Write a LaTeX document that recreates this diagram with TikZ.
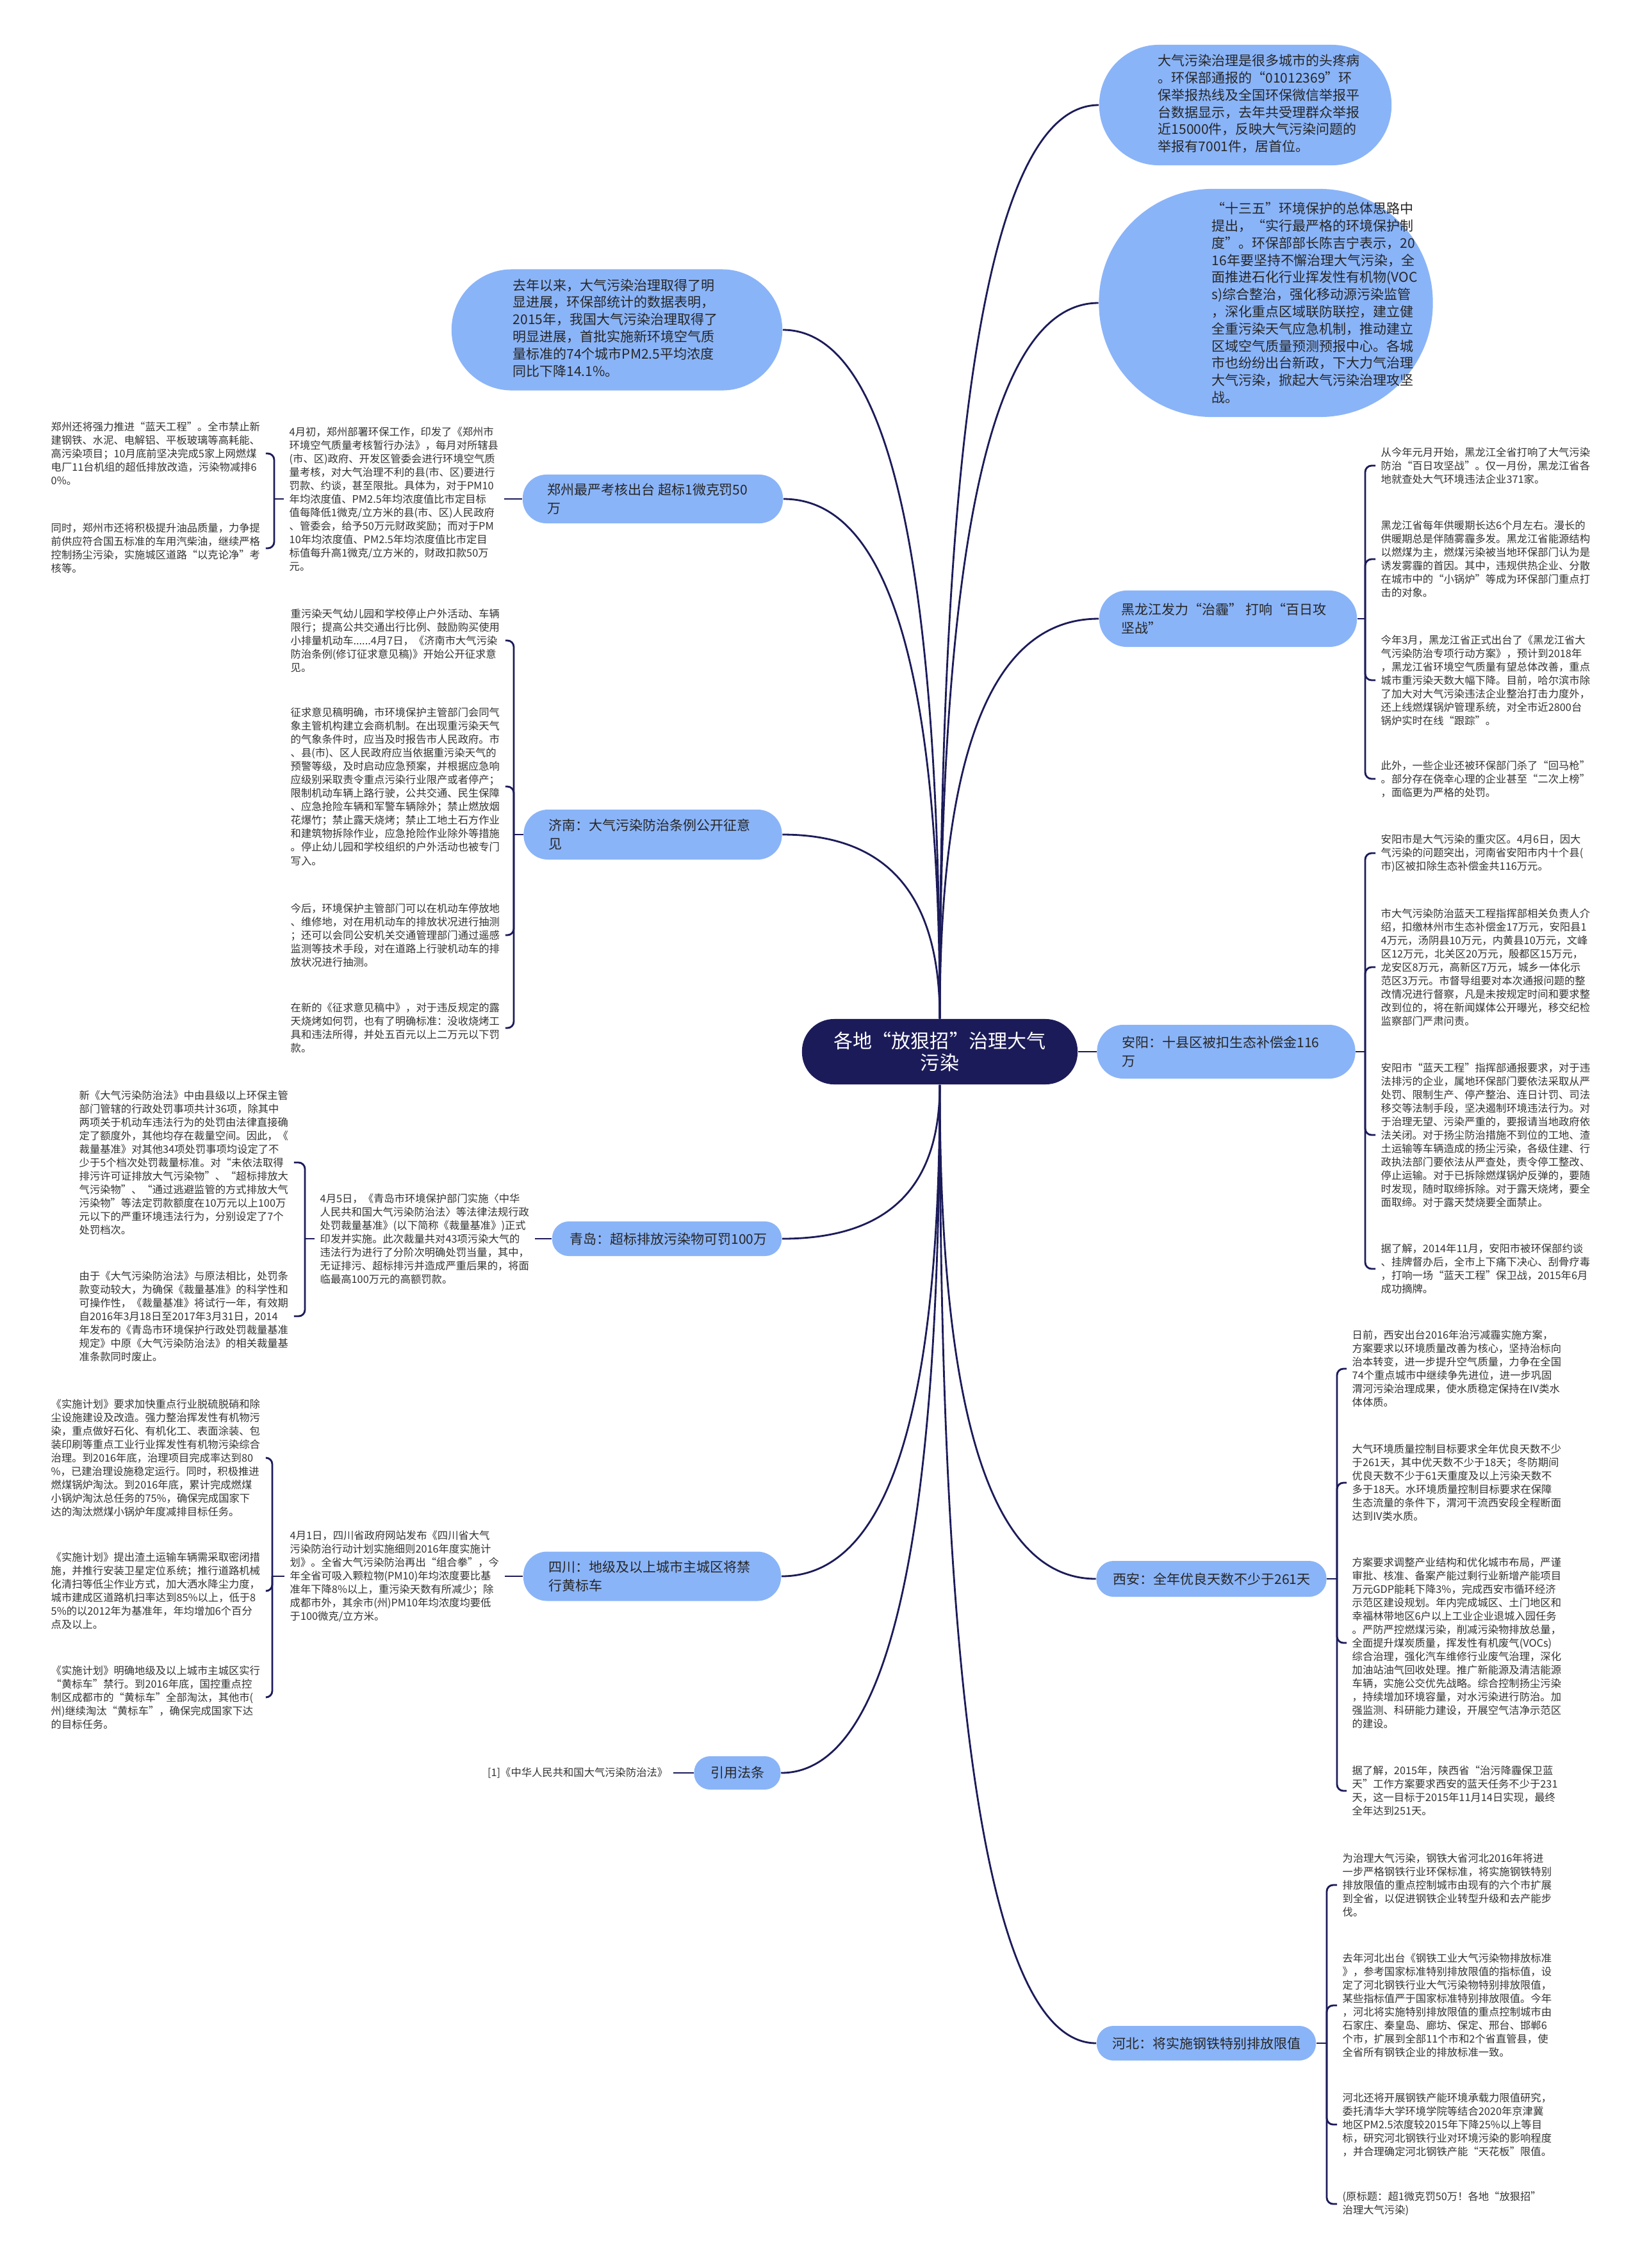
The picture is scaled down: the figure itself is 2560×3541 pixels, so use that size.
\documentclass[tikz,border=0pt]{standalone}
\usepackage{fontspec}
\setmainfont{Noto Sans CJK SC}
\usetikzlibrary{calc}
\definecolor{navy}{RGB}{28,27,90}
\definecolor{brblue}{RGB}{138,180,248}
\definecolor{leaftxt}{RGB}{51,51,51}
\definecolor{nodetxt}{RGB}{38,38,38}
\tikzset{
 conn/.style={draw=navy, line width=0.8pt},
 brk/.style={conn, rounded corners=0.1cm},
 pill/.style={fill=brblue, draw=none, inner sep=0pt},
 leaf/.style={align=left, inner xsep=0.08cm, inner ysep=0pt, text=leaftxt, font=\fontsize{4.64pt}{5.98pt}\selectfont},
 bubtxt/.style={align=left, inner sep=0pt, text=nodetxt, anchor=west, font=\fontsize{5.97pt}{7.62pt}\selectfont},
 brtxt/.style={align=left, inner sep=0pt, text=nodetxt, anchor=west, font=\fontsize{5.97pt}{8.25pt}\selectfont},
}
\newcommand\mmcurve[2]{\draw[conn] (#1) .. controls ($(#1)!0.67!(#1 |- #2)$) and ($(#2)!0.67!(#1 |- #2)$) .. (#2);}
\begin{document}
\begin{tikzpicture}[x=0.01cm,y=-0.01cm]
\useasboundingbox (0,0) rectangle (2560,3541);
\fill[white] (0,0) rectangle (2560,3541);

% ---------- centre ----------
\node[fill=navy, rounded corners=0.5cm, minimum width=4.3cm, minimum height=1.02cm, inner sep=0pt, text=white, align=center, font=\fontsize{8.54pt}{9.7pt}\selectfont] (center) at (1467,1642) {各地“放狠招”治理大气\\污染};

% ---------- right: bubbles ----------
\node[pill, minimum width=4.56cm, minimum height=1.88cm, rounded corners=0.93cm] (bA) at (1944,164) {};
\node[bubtxt] (bAt) at (1807,162) {大气污染治理是很多城市的头疼病\\。环保部通报的“01012369”环\\保举报热线及全国环保微信举报平\\台数据显示，去年共受理群众举报\\近15000件，反映大气污染问题的\\举报有7001件，居首位。};

\node[pill, minimum width=5.21cm, minimum height=3.56cm, rounded corners=1.77cm] (bB) at (1976,473) {};
\node[bubtxt] (bBt) at (1891,473) {“十三五”环境保护的总体思路中\\提出，“实行最严格的环境保护制\\度”。环保部部长陈吉宁表示，20\\16年要坚持不懈治理大气污染，全\\面推进石化行业挥发性有机物(VOC\\s)综合整治，强化移动源污染监管\\，深化重点区域联防联控，建立健\\全重污染天气应急机制，推动建立\\区域空气质量预测预报中心。各城\\市也纷纷出台新政，下大力气治理\\大气污染，掀起大气污染治理攻坚\\战。};

% ---------- right: Heilongjiang ----------
\node[pill, minimum width=4.02cm, minimum height=0.88cm, rounded corners=0.43cm] (hlj) at (1917,966) {};
\node[brtxt] (hljt) at (1750,966) {黑龙江发力“治霾” 打响“百日攻\\坚战”};
\node[leaf, anchor=west] (hlj1) at (2147,727) {从今年元月开始，黑龙江全省打响了大气污染\\防治“百日攻坚战”。仅一月份，黑龙江省各\\地就查处大气环境违法企业371家。};
\node[leaf, anchor=west] (hlj2) at (2147,873) {黑龙江省每年供暖期长达6个月左右。漫长的\\供暖期总是伴随雾霾多发。黑龙江省能源结构\\以燃煤为主，燃煤污染被当地环保部门认为是\\诱发雾霾的首因。其中，违规供热企业、分散\\在城市中的“小锅炉”等成为环保部门重点打\\击的对象。};
\node[leaf, anchor=west] (hlj3) at (2147,1062) {今年3月，黑龙江省正式出台了《黑龙江省大\\气污染防治专项行动方案》，预计到2018年\\，黑龙江省环境空气质量有望总体改善，重点\\城市重污染天数大幅下降。目前，哈尔滨市除\\了加大对大气污染违法企业整治打击力度外，\\还上线燃煤锅炉管理系统，对全市近2800台\\锅炉实时在线“跟踪”。};
\node[leaf, anchor=west] (hlj4) at (2147,1216) {此外，一些企业还被环保部门杀了“回马枪”\\。部分存在侥幸心理的企业甚至“二次上榜”\\，面临更为严格的处罚。};
\coordinate (hljb) at (2131,966);

% ---------- right: Anyang ----------
\node[pill, minimum width=4.03cm, minimum height=0.84cm, rounded corners=0.41cm] (ay) at (1914,1642) {};
\node[brtxt] (ayt) at (1751,1642) {安阳：十县区被扣生态补偿金116\\万};
\node[leaf, anchor=west] (ay1) at (2147,1332) {安阳市是大气污染的重灾区。4月6日，因大\\气污染的问题突出，河南省安阳市内十个县(\\市)区被扣除生态补偿金共116万元。};
\node[leaf, anchor=west] (ay2) at (2147,1510) {市大气污染防治蓝天工程指挥部相关负责人介\\绍，扣缴林州市生态补偿金17万元，安阳县1\\4万元，汤阴县10万元，内黄县10万元，文峰\\区12万元，北关区20万元，殷都区15万元，\\龙安区8万元，高新区7万元，城乡一体化示\\范区3万元。市督导组要对本次通报问题的整\\改情况进行督察，凡是未按规定时间和要求整\\改到位的，将在新闻媒体公开曝光，移交纪检\\监察部门严肃问责。};
\node[leaf, anchor=west] (ay3) at (2147,1772) {安阳市“蓝天工程”指挥部通报要求，对于违\\法排污的企业，属地环保部门要依法采取从严\\处罚、限制生产、停产整治、连日计罚、司法\\移交等法制手段，坚决遏制环境违法行为。对\\于治理无望、污染严重的，要报请当地政府依\\法关闭。对于扬尘防治措施不到位的工地、渣\\土运输等车辆造成的扬尘污染，各级住建、行\\政执法部门要依法从严查处，责令停工整改、\\停止运输。对于已拆除燃煤锅炉反弹的，要随\\时发现，随时取缔拆除。对于露天烧烤，要全\\面取缔。对于露天焚烧要全面禁止。};
\node[leaf, anchor=west] (ay4) at (2147,1981) {据了解，2014年11月，安阳市被环保部约谈\\、挂牌督办后，全市上下痛下决心、刮骨疗毒\\，打响一场“蓝天工程”保卫战，2015年6月\\成功摘牌。};
\coordinate (ayb) at (2131,1642);

% ---------- right: Xi'an ----------
\node[pill, minimum width=3.59cm, minimum height=0.56cm, rounded corners=0.27cm] (xa) at (1891,2465) {};
\node[brtxt] (xat) at (1737,2465) {西安：全年优良天数不少于261天};
\node[leaf, anchor=west] (xa1) at (2102,2137) {日前，西安出台2016年治污减霾实施方案，\\方案要求以环境质量改善为核心，坚持治标向\\治本转变，进一步提升空气质量，力争在全国\\74个重点城市中继续争先进位，进一步巩固\\渭河污染治理成果，使水质稳定保持在IV类水\\体体质。};
\node[leaf, anchor=west] (xa2) at (2102,2315) {大气环境质量控制目标要求全年优良天数不少\\于261天，其中优天数不少于18天；冬防期间\\优良天数不少于61天重度及以上污染天数不\\多于18天。水环境质量控制目标要求在保障\\生态流量的条件下，渭河干流西安段全程断面\\达到IV类水质。};
\node[leaf, anchor=west] (xa3) at (2102,2565) {方案要求调整产业结构和优化城市布局，严谨\\审批、核准、备案产能过剩行业新增产能项目\\万元GDP能耗下降3\%，完成西安市循环经济\\示范区建设规划。年内完成城区、土门地区和\\幸福林带地区6户以上工业企业退城入园任务\\。严防严控燃煤污染，削减污染物排放总量，\\全面提升煤炭质量，挥发性有机废气(VOCs)\\综合治理，强化汽车维修行业废气治理，深化\\加油站油气回收处理。推广新能源及清洁能源\\车辆，实施公交优先战略。综合控制扬尘污染\\，持续增加环境容量，对水污染进行防治。加\\强监测、科研能力建设，开展空气洁净示范区\\的建设。};
\node[leaf, anchor=west] (xa4) at (2102,2796) {据了解，2015年，陕西省“治污降霾保卫蓝\\天”工作方案要求西安的蓝天任务不少于231\\天，这一目标于2015年11月14日实现，最终\\全年达到251天。};
\coordinate (xab) at (2087,2465);

% ---------- right: Hebei ----------
\node[pill, minimum width=3.42cm, minimum height=0.54cm, rounded corners=0.26cm] (hb) at (1883,3190) {};
\node[brtxt] (hbt) at (1736,3190) {河北：将实施钢铁特别排放限值};
\node[leaf, anchor=west] (hb1) at (2087,2943) {为治理大气污染，钢铁大省河北2016年将进\\一步严格钢铁行业环保标准，将实施钢铁特别\\排放限值的重点控制城市由现有的六个市扩展\\到全省，以促进钢铁企业转型升级和去产能步\\伐。};
\node[leaf, anchor=west] (hb2) at (2087,3131) {去年河北出台《钢铁工业大气污染物排放标准\\》，参考国家标准特别排放限值的指标值，设\\定了河北钢铁行业大气污染物特别排放限值，\\某些指标值严于国家标准特别排放限值。今年\\，河北将实施特别排放限值的重点控制城市由\\石家庄、秦皇岛、廊坊、保定、邢台、邯郸6\\个市，扩展到全部11个市和2个省直管县，使\\全省所有钢铁企业的排放标准一致。};
\node[leaf, anchor=west] (hb3) at (2087,3317) {河北还将开展钢铁产能环境承载力限值研究，\\委托清华大学环境学院等结合2020年京津冀\\地区PM2.5浓度较2015年下降25\%以上等目\\标，研究河北钢铁行业对环境污染的影响程度\\，并合理确定河北钢铁产能“天花板”限值。};
\node[leaf, anchor=west] (hb4) at (2087,3441) {(原标题：超1微克罚50万！各地“放狠招”\\治理大气污染)};
\coordinate (hbb) at (2071,3190);

% ---------- left: bubble ----------
\node[pill, minimum width=5.16cm, minimum height=1.89cm, rounded corners=0.94cm] (bL) at (963,515) {};
\node[bubtxt] (bLt) at (800,512) {去年以来，大气污染治理取得了明\\显进展，环保部统计的数据表明，\\2015年，我国大气污染治理取得了\\明显进展，首批实施新环境空气质\\量标准的74个城市PM2.5平均浓度\\同比下降14.1\%。};

% ---------- left: Zhengzhou ----------
\node[pill, minimum width=4.06cm, minimum height=0.76cm, rounded corners=0.37cm] (zz) at (1019,779) {};
\node[brtxt] (zzt) at (854,779) {郑州最严考核出台 超标1微克罚50\\万};
\node[leaf, anchor=west] (zzm) at (443,779) {4月初，郑州部署环保工作，印发了《郑州市\\环境空气质量考核暂行办法》，每月对所辖县\\(市、区)政府、开发区管委会进行环境空气质\\量考核，对大气治理不利的县(市、区)要进行\\罚款、约谈，甚至限批。具体为，对于PM10\\年均浓度值、PM2.5年均浓度值比市定目标\\值每降低1微克/立方米的县(市、区)人民政府\\、管委会，给予50万元财政奖励；而对于PM\\10年均浓度值、PM2.5年均浓度值比市定目\\标值每升高1微克/立方米的，财政扣款50万\\元。};
\node[leaf, anchor=west] (zz1) at (71,708) {郑州还将强力推进“蓝天工程”。全市禁止新\\建钢铁、水泥、电解铝、平板玻璃等高耗能、\\高污染项目；10月底前坚决完成5家上网燃煤\\电厂11台机组的超低排放改造，污染物减排6\\0\%。};
\node[leaf, anchor=west] (zz2) at (71,856) {同时，郑州市还将积极提升油品质量，力争提\\前供应符合国五标准的车用汽柴油，继续严格\\控制扬尘污染，实施城区道路“以克论净”考\\核等。};
\coordinate (zzb) at (428,779);

% ---------- left: Jinan ----------
\node[pill, minimum width=4.03cm, minimum height=0.78cm, rounded corners=0.38cm] (jn) at (1019,1303) {};
\node[brtxt] (jnt) at (856,1303) {济南：大气污染防治条例公开征意\\见};
\node[leaf, anchor=west] (jn1) at (445,1000) {重污染天气幼儿园和学校停止户外活动、车辆\\限行；提高公共交通出行比例、鼓励购买使用\\小排量机动车......4月7日，《济南市大气污染\\防治条例(修订征求意见稿)》开始公开征求意\\见。};
\node[leaf, anchor=west] (jn2) at (445,1228) {征求意见稿明确，市环境保护主管部门会同气\\象主管机构建立会商机制。在出现重污染天气\\的气象条件时，应当及时报告市人民政府。市\\、县(市)、区人民政府应当依据重污染天气的\\预警等级，及时启动应急预案，并根据应急响\\应级别采取责令重点污染行业限产或者停产；\\限制机动车辆上路行驶，公共交通、民生保障\\、应急抢险车辆和军警车辆除外；禁止燃放烟\\花爆竹；禁止露天烧烤；禁止工地土石方作业\\和建筑物拆除作业，应急抢险作业除外等措施\\。停止幼儿园和学校组织的户外活动也被专门\\写入。};
\node[leaf, anchor=west] (jn3) at (445,1460) {今后，环境保护主管部门可以在机动车停放地\\、维修地，对在用机动车的排放状况进行抽测\\；还可以会同公安机关交通管理部门通过遥感\\监测等技术手段，对在道路上行驶机动车的排\\放状况进行抽测。};
\node[leaf, anchor=west] (jn4) at (445,1605) {在新的《征求意见稿中》，对于违反规定的露\\天烧烤如何罚，也有了明确标准：没收烧烤工\\具和违法所得，并处五百元以上二万元以下罚\\款。};
\coordinate (jnb) at (802,1303);

% ---------- left: Qingdao ----------
\node[pill, minimum width=3.58cm, minimum height=0.54cm, rounded corners=0.26cm] (qd) at (1041,1934) {};
\node[brtxt] (qdt) at (889,1934) {青岛：超标排放污染物可罚100万};
\node[leaf, anchor=west] (qdm) at (491,1934) {4月5日，《青岛市环境保护部门实施〈中华\\人民共和国大气污染防治法〉等法律法规行政\\处罚裁量基准》(以下简称《裁量基准》)正式\\印发并实施。此次裁量共对43项污染大气的\\违法行为进行了分阶次明确处罚当量，其中，\\无证排污、超标排污并造成严重后果的，将面\\临最高100万元的高额罚款。};
\node[leaf, anchor=west] (qd1) at (115,1815) {新《大气污染防治法》中由县级以上环保主管\\部门管辖的行政处罚事项共计36项，除其中\\两项关于机动车违法行为的处罚由法律直接确\\定了额度外，其他均存在裁量空间。因此，《\\裁量基准》对其他34项处罚事项均设定了不\\少于5个档次处罚裁量标准。对“未依法取得\\排污许可证排放大气污染物”、“超标排放大\\气污染物”、“通过逃避监管的方式排放大气\\污染物”等法定罚款额度在10万元以上100万\\元以下的严重环境违法行为，分别设定了7个\\处罚档次。};
\node[leaf, anchor=west] (qd2) at (115,2055) {由于《大气污染防治法》与原法相比，处罚条\\款变动较大，为确保《裁量基准》的科学性和\\可操作性，《裁量基准》将试行一年，有效期\\自2016年3月18日至2017年3月31日，2014\\年发布的《青岛市环境保护行政处罚裁量基准\\规定》中原《大气污染防治法》的相关裁量基\\准条款同时废止。};
\coordinate (qdb) at (476,1934);

% ---------- left: Sichuan ----------
\node[pill, minimum width=4.02cm, minimum height=0.77cm, rounded corners=0.37cm] (sc) at (1018,2461) {};
\node[brtxt] (sct) at (856,2461) {四川：地级及以上城市主城区将禁\\行黄标车};
\node[leaf, anchor=west] (scm) at (444,2461) {4月1日，四川省政府网站发布《四川省大气\\污染防治行动计划实施细则2016年度实施计\\划》。全省大气污染防治再出“组合拳”，今\\年全省可吸入颗粒物(PM10)年均浓度要比基\\准年下降8\%以上，重污染天数有所减少；除\\成都市外，其余市(州)PM10年均浓度均要低\\于100微克/立方米。};
\node[leaf, anchor=west] (sc1) at (71,2276) {《实施计划》要求加快重点行业脱硫脱硝和除\\尘设施建设及改造。强力整治挥发性有机物污\\染，重点做好石化、有机化工、表面涂装、包\\装印刷等重点工业行业挥发性有机物污染综合\\治理。到2016年底，治理项目完成率达到80\\\%，已建治理设施稳定运行。同时，积极推进\\燃煤锅炉淘汰。到2016年底，累计完成燃煤\\小锅炉淘汰总任务的75\%，确保完成国家下\\达的淘汰燃煤小锅炉年度减排目标任务。};
\node[leaf, anchor=west] (sc2) at (71,2484) {《实施计划》提出渣土运输车辆需采取密闭措\\施，并推行安装卫星定位系统；推行道路机械\\化清扫等低尘作业方式，加大洒水降尘力度，\\城市建成区道路机扫率达到85\%以上，低于8\\5\%的以2012年为基准年，年均增加6个百分\\点及以上。};
\node[leaf, anchor=west] (sc3) at (71,2650) {《实施计划》明确地级及以上城市主城区实行\\“黄标车”禁行。到2016年底，国控重点控\\制区成都市的“黄标车”全部淘汰，其他市(\\州)继续淘汰“黄标车”，确保完成国家下达\\的目标任务。};
\coordinate (scb) at (425,2461);

% ---------- left: citation ----------
\node[pill, minimum width=1.35cm, minimum height=0.52cm, rounded corners=0.25cm, text=nodetxt, font=\fontsize{5.97pt}{8.25pt}\selectfont] (yy) at (1151,2768) {引用法条};
\node[leaf, anchor=east] (yy1) at (1051,2768) {[1]《中华人民共和国大气污染防治法》};

% ---------- connectors: centre to branches ----------
\mmcurve{center.north}{bA.west}
\mmcurve{center.north}{bB.west}
\mmcurve{center.north}{hlj.west}
\draw[conn] (center.east) -- (ay.west);
\mmcurve{center.south}{xa.west}
\mmcurve{center.south}{hb.west}
\mmcurve{center.north}{bL.east}
\mmcurve{center.north}{zz.east}
\mmcurve{center.north}{jn.east}
\mmcurve{center.south}{qd.east}
\mmcurve{center.south}{sc.east}
\mmcurve{center.south}{yy.east}

% ---------- connectors: branches to leaves ----------
\draw[conn] (hlj.east) -- (hljb);
\foreach \n in {hlj1,hlj2,hlj3,hlj4} \draw[brk] (hljb) |- (\n.west);
\draw[conn] (ay.east) -- (ayb);
\foreach \n in {ay1,ay2,ay3,ay4} \draw[brk] (ayb) |- (\n.west);
\draw[conn] (xa.east) -- (xab);
\foreach \n in {xa1,xa2,xa3,xa4} \draw[brk] (xab) |- (\n.west);
\draw[conn] (hb.east) -- (hbb);
\foreach \n in {hb1,hb2,hb3,hb4} \draw[brk] (hbb) |- (\n.west);

\draw[conn] (zz.west) -- (zzm.east);
\draw[conn] (zzm.west) -- (zzb);
\foreach \n in {zz1,zz2} \draw[brk] (zzb) |- (\n.east);
\draw[conn] (jn.west) -- (jnb);
\foreach \n in {jn1,jn2,jn3,jn4} \draw[brk] (jnb) |- (\n.east);
\draw[conn] (qd.west) -- (qdm.east);
\draw[conn] (qdm.west) -- (qdb);
\foreach \n in {qd1,qd2} \draw[brk] (qdb) |- (\n.east);
\draw[conn] (sc.west) -- (scm.east);
\draw[conn] (scm.west) -- (scb);
\foreach \n in {sc1,sc2,sc3} \draw[brk] (scb) |- (\n.east);
\draw[conn] (yy.west) -- (yy1.east);
\end{tikzpicture}
\end{document}
